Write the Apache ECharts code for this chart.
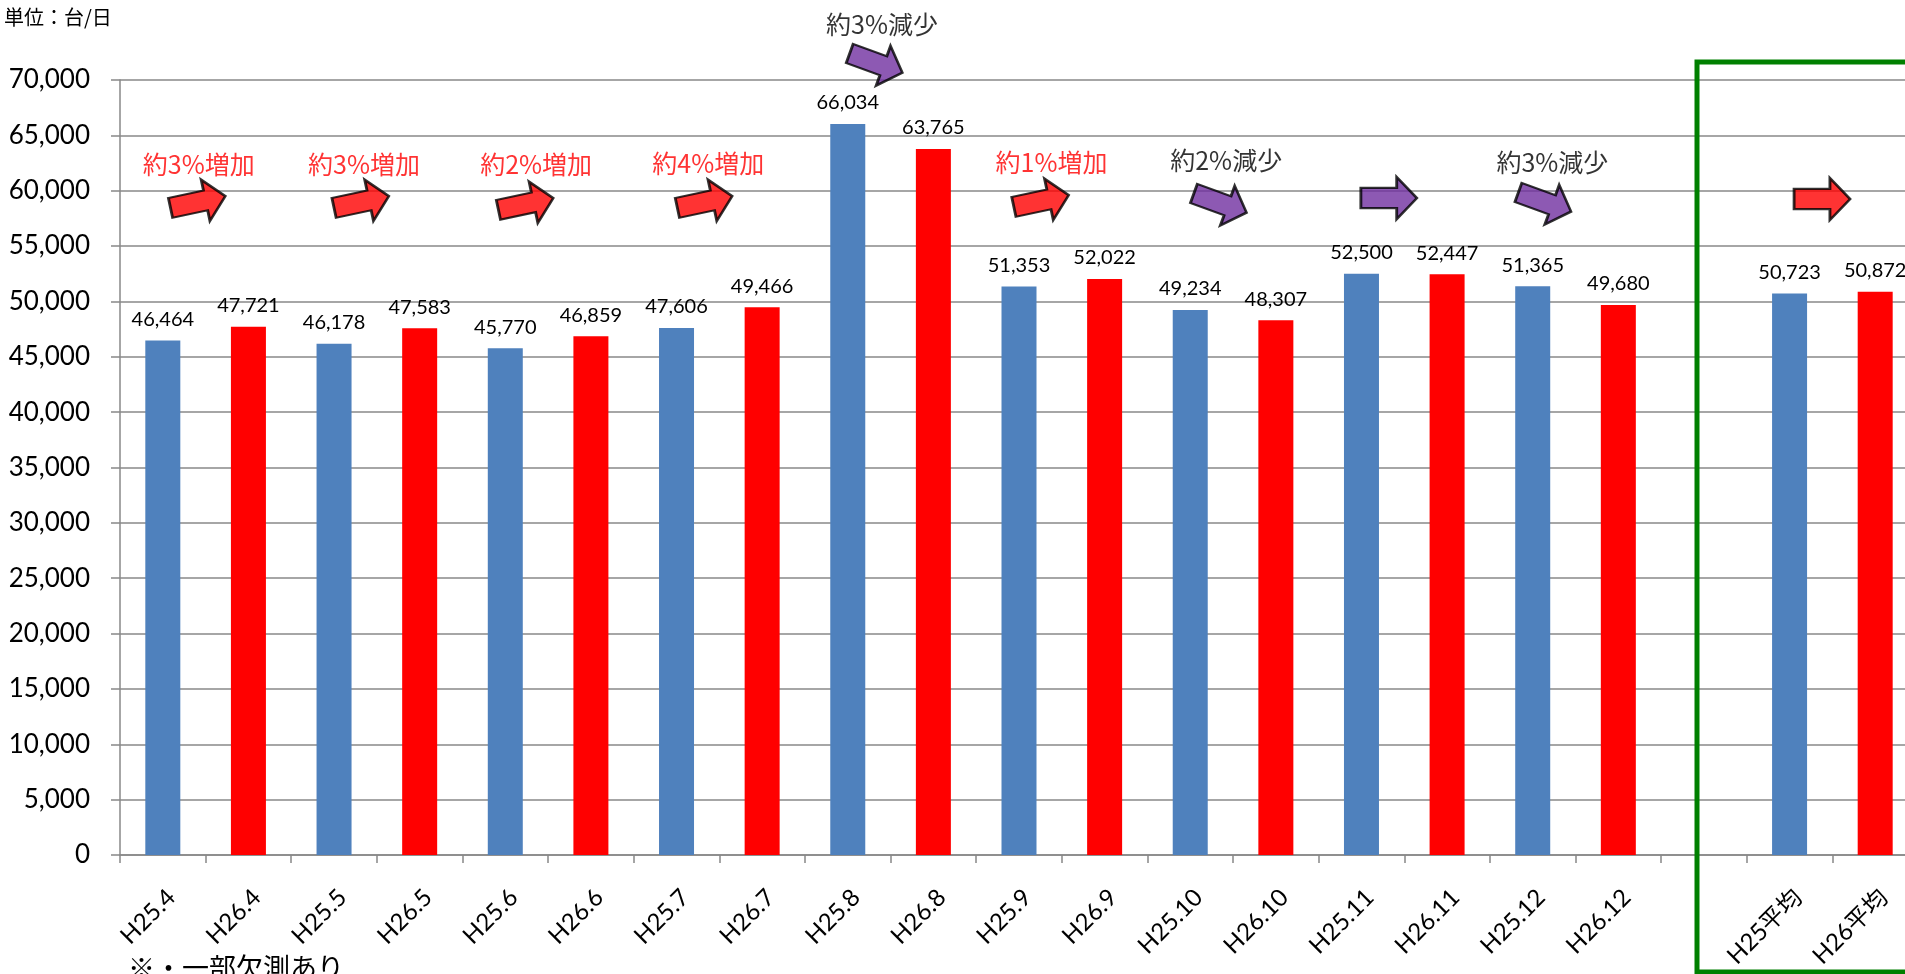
<!DOCTYPE html>
<html>
<head>
<meta charset="utf-8">
<script src="https://cdn.jsdelivr.net/npm/echarts@6/dist/echarts.min.js"></script>
<style>
html,body{margin:0;padding:0;background:#fff;overflow:hidden;}
#chart{width:1905px;height:974px;}
</style>
</head>
<body>
<div id="chart"></div>
<script>
// ---- data ----
const categories = ['H25.4','H26.4','H25.5','H26.5','H25.6','H26.6','H25.7','H26.7','H25.8','H26.8','H25.9','H26.9','H25.10','H26.10','H25.11','H26.11','H25.12','H26.12','','H25平均','H26平均'];
const values = [46464,47721,46178,47583,45770,46859,47606,49466,66034,63765,51353,52022,49234,48307,52500,52447,51365,49680,null,50723,50872];
const yTicks = {min:0, max:70000, interval:5000};

// annotation texts (placed in data space: x = category index, y = value)
const noteTexts = ['約3%増加','約3%増加','約2%増加','約4%増加','約3%減少','約1%増加','約2%減少','約3%減少'];
const noteKinds = ['up','up','up','up','down','up','down','down'];
const noteX = [0.42,2.35,4.36,6.37,8.40,10.38,12.42,16.23];
const noteY = [62410,62410,62410,62500,74970,62590,62770,62590];

// arrows
const arrowKinds = ['up','up','up','up','down','up','down','down','down','up'];
const arrowX = [0.41,2.32,4.24,6.33,8.33,10.26,12.35,14.32,16.14,19.38];
const arrowY = [58980,58980,58800,58980,71530,59070,58890,59340,58980,59250];
const arrowAngle = [12,12,12,12,-20,12,-20,0,-20,0];

const BLUE = '#4F81BD', RED = '#FF0000', PURPLE = '#7030A0';
const fmt = v => (v == null ? '' : Number(v).toLocaleString('en-US'));
const numFont = 'Lato, "Noto Sans", sans-serif';
const jpFont = '"Noto Sans CJK JP", "Noto Sans", sans-serif';
const mixFont = 'Lato, "Noto Sans CJK JP", sans-serif';
const arrowPath = 'path://M0,26 L64,26 L64,0 L100,50 L64,100 L64,74 L0,74 Z';

const chart = echarts.init(document.getElementById('chart'));
chart.setOption({
  backgroundColor: '#fff',
  animation: false,
  grid: {left: 120, top: 80, right: -13, bottom: 119, containLabel: false, outerBoundsMode: 'none'},
  xAxis: [{
    type: 'category',
    data: categories,
    boundaryGap: true,
    axisLine: {onZero: false, lineStyle: {color: '#888', width: 1.5}},
    axisTick: {show: true, interval: 0, length: 8, lineStyle: {color: '#888', width: 1.5}},
    axisLabel: {interval: 0, rotate: 45, margin: 30, verticalAlign: 'top', color: '#000', fontSize: 24, fontFamily: mixFont},
    splitLine: {show: false}
  }, {
    type: 'value', min: -0.5, max: 20.5, show: false
  }],
  yAxis: {
    type: 'value',
    min: yTicks.min, max: yTicks.max, interval: yTicks.interval,
    axisLine: {show: true, onZero: false, lineStyle: {color: '#888', width: 1.5}},
    axisTick: {show: true, length: 9, lineStyle: {color: '#888', width: 1.5}},
    axisLabel: {color: '#000', fontSize: 26, fontFamily: numFont, margin: 30, formatter: fmt},
    splitLine: {show: true, lineStyle: {color: '#888', width: 1.5}}
  },
  series: [{
    type: 'bar',
    data: values.map((v, i) => ({value: v, itemStyle: {color: categories[i].indexOf('H25') === 0 ? BLUE : RED}})),
    barWidth: 35,
    label: {show: true, position: 'top', distance: 11, color: '#000', fontSize: 20, fontFamily: numFont, formatter: p => fmt(p.value)}
  }, {
    type: 'scatter',
    xAxisIndex: 1,
    clip: false,
    symbol: arrowPath,
    symbolSize: [56, 42],
    z: 5,
    data: arrowX.map((x, i) => ({
      value: [x, arrowY[i]],
      symbolRotate: arrowAngle[i],
      itemStyle: {color: arrowKinds[i] === 'up' ? RED : PURPLE, borderColor: '#000', borderWidth: 2.5}
    })),
    silent: true
  }, {
    type: 'scatter',
    xAxisIndex: 1,
    clip: false,
    symbol: 'circle',
    symbolSize: 1,
    itemStyle: {color: 'transparent'},
    z: 6,
    data: noteX.map((x, i) => ({
      value: [x, noteY[i]],
      name: noteTexts[i],
      label: {color: noteKinds[i] === 'up' ? RED : '#000'}
    })),
    label: {show: true, position: 'inside', fontSize: 25, fontFamily: jpFont, formatter: p => p.name},
    silent: true
  }],
  graphic: [{
    type: 'rect', z: 100,
    shape: {x: 1697, y: 62, width: 400, height: 910},
    style: {fill: null, stroke: '#008000', lineWidth: 5}
  }, {
    type: 'text', left: 4, top: 7, z: 100,
    style: {text: '単位：台/日', font: '20px "Noto Sans CJK JP", sans-serif', fill: '#000'}
  }, {
    type: 'text', left: 128, top: 954, z: 100,
    style: {text: '※・一部欠測あり', font: '27px "Noto Sans CJK JP", sans-serif', fill: '#000'}
  }]
});
</script>
</body>
</html>
